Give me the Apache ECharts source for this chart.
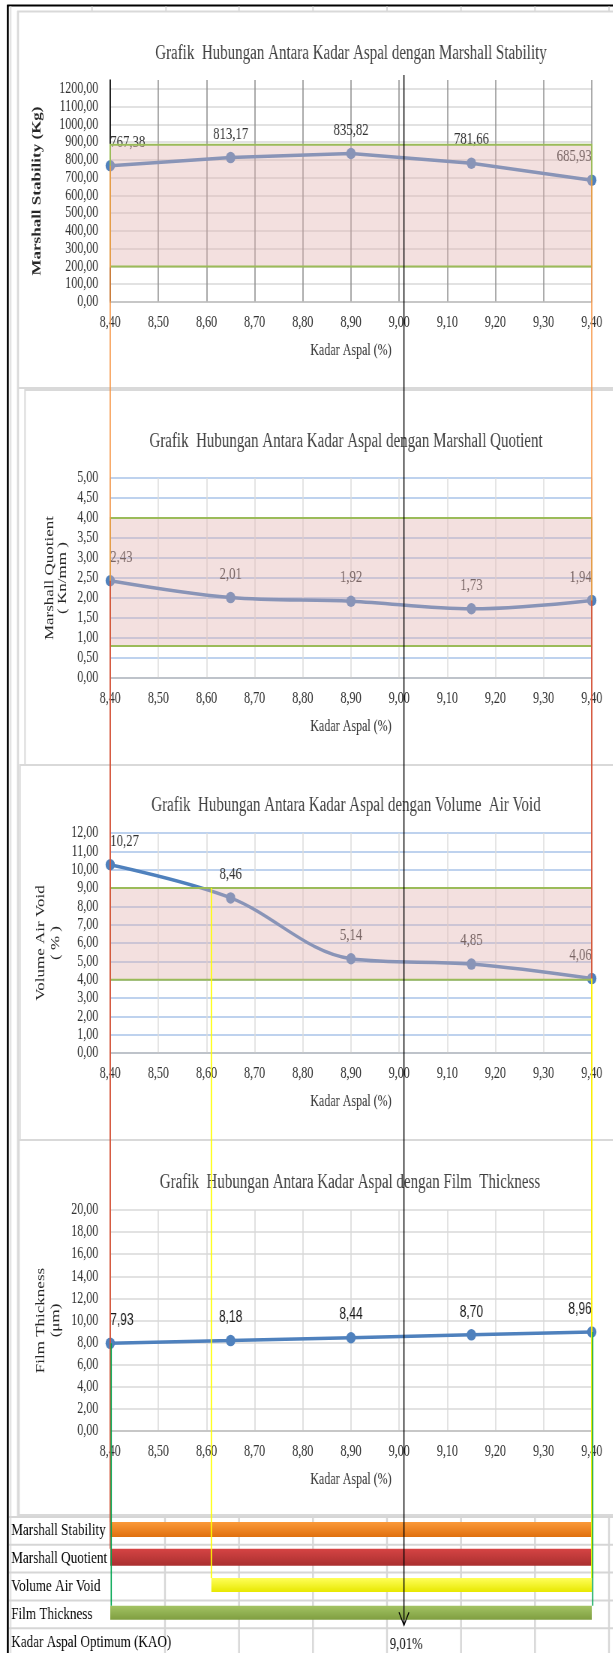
<!DOCTYPE html>
<html lang="id">
<head>
<meta charset="UTF-8">
<title>Kadar Aspal Optimum</title>
<script src="https://cdn.jsdelivr.net/npm/echarts@6.0.0/dist/echarts.min.js"></script>
<style>
  html, body { margin: 0; padding: 0; background: #fff; overflow: hidden; }
  /* gambar aslinya dipampatkan mendatar, jadi kanvas ikut dipampatkan */
  #kao { width: 817px; height: 1653px; transform: scaleX(0.75); transform-origin: 0 0; }
</style>
</head>
<body>
<div id="kao"></div>
<script>
// data dari grafik
var kadarAspal = [8.40, 8.65, 8.90, 9.15, 9.40];
var stability = [767.38, 813.17, 835.82, 781.66, 685.93];
var quotient = [2.43, 2.01, 1.92, 1.73, 1.94];
var airVoid = [10.27, 8.46, 5.14, 4.85, 4.06];
var filmThickness = [7.93, 8.18, 8.44, 8.70, 8.96];

// batas spesifikasi (kotak merah muda)
var specStability = [200, 885];
var specQuotient = [0.8, 4.0];
var specAirVoid = [4.0, 9.0];

// tabel rentang di bawah
var rowNames = ['Marshall Stability', 'Marshall Quotient', 'Volume Air Void', 'Film Thickness', 'Kadar Aspal Optimum (KAO)'];
var rangeStart = [8.40, 8.40, 8.61, 8.40];
var rangeEnd = [9.40, 9.40, 9.40, 9.40];
var kao = 9.01;

var xMin = 8.4, xMax = 9.4, xStep = 0.1;

var titles = [
  'Grafik  Hubungan Antara Kadar Aspal dengan Marshall Stability',
  'Grafik  Hubungan Antara Kadar Aspal dengan Marshall Quotient',
  'Grafik  Hubungan Antara Kadar Aspal dengan Volume  Air Void',
  'Grafik  Hubungan Antara Kadar Aspal dengan Film  Thickness'
];
var yNames = ['Marshall Stability (Kg)', 'Marshall Quotient\n( Kn/mm )', 'Volume Air Void\n( % )', 'Film Thickness\n(\u03bcm)'];
var values = [stability, quotient, airVoid, filmThickness];
var specs = [specStability, specQuotient, specAirVoid, null];

// tata letak
var SX = 0.75;
function u(x) { return x / SX; }
var GL = 147, GR = 28;
var panels = [
  { top: 80, height: 222, tx: 351, ty: 54, max: 1250, step: 100, hLine: '#d9d9d9', vLine: '#8f8f8f', gap: 87, lh: 20, smooth: false },
  { top: 478, height: 200, tx: 346, ty: 442, max: 5, step: 0.5, hLine: '#a9c3e8', vLine: '#dcdcdc', gap: 52, lh: 17, smooth: 0.35 },
  { top: 833, height: 220, tx: 346, ty: 806, max: 12, step: 1, hLine: '#a9c3e8', vLine: '#dcdcdc', gap: 56, lh: 20, smooth: 0.35 },
  { top: 1210, height: 221, tx: 350, ty: 1183, max: 20, step: 2, hLine: '#d9d9d9', vLine: '#d9d9d9', gap: 56, lh: 20, smooth: false }
];
var tableTop = 1517, rowH = 27.8;
var barH = [15, 17, 14, 14];
var barTopColor = ['#fb9a3a', '#d64444', '#ffff5a', '#a3c364'];
var barBotColor = ['#e0700f', '#a93030', '#e8e800', '#7f9e40'];

function koma(v) { return Number(v).toFixed(2).replace('.', ','); }

var chart = echarts.init(document.getElementById('kao'));

var grid = [], xAxis = [], yAxis = [], series = [];
panels.forEach(function (p, i) {
  grid.push({ left: GL, right: GR, top: p.top, height: p.height, outerBoundsMode: 'none' });
  xAxis.push({
    type: 'value', gridIndex: i, min: xMin, max: xMax, interval: xStep,
    axisLine: { show: true, lineStyle: { color: '#bfbfbf', width: 1.5 } },
    axisTick: { show: false },
    axisLabel: { margin: 13, fontSize: 16, color: '#333', formatter: koma },
    splitLine: { show: true, lineStyle: { color: p.vLine, width: 1.5 } },
    name: 'Kadar Aspal (%)', nameLocation: 'middle', nameGap: 41,
    nameTextStyle: { fontSize: 16, color: '#333' }
  });
  yAxis.push({
    type: 'value', gridIndex: i, min: 0, max: p.max, interval: p.step,
    axisLine: { show: i === 0, lineStyle: { color: '#000', width: 1.6 } },
    axisTick: { show: false },
    axisLabel: { margin: 16, fontSize: 16, color: '#333', formatter: koma, showMaxLabel: i !== 0 },
    splitLine: { show: true, showMaxLine: i !== 0, lineStyle: { color: p.hLine, width: 1.5 } },
    name: yNames[i], nameLocation: 'middle', nameRotate: 90, nameGap: p.gap,
    nameTextStyle: { fontSize: 17, fontWeight: i === 0 ? 'bold' : 'normal', color: '#262626', lineHeight: p.lh }
  });
  var n = kadarAspal.length;
  series.push({
    type: 'line', xAxisIndex: i, yAxisIndex: i, z: 2,
    smooth: p.smooth, symbol: 'circle', symbolSize: [12.5, 11.5],
    lineStyle: { color: '#4f81bd', width: 3.5 },
    itemStyle: { color: '#4f81bd' },
    label: {
      show: true, position: 'top', distance: 9,
      fontSize: i === 3 ? 16 : 17,
      fontFamily: i === 3 ? 'Liberation Sans' : 'Liberation Serif',
      color: i === 3 ? '#1a1a1a' : '#333',
      formatter: function (prm) { return koma(prm.value[1]); }
    },
    data: kadarAspal.map(function (x, k) {
      return { value: [x, values[i][k]], label: { align: k === 0 ? 'left' : (k === n - 1 ? 'right' : 'center') } };
    })
  });
  if (specs[i]) {
    series.push({
      type: 'custom', xAxisIndex: i, yAxisIndex: i, z: 5, silent: true,
      data: [[xMin, specs[i][0], xMax, specs[i][1]]],
      encode: { x: [0, 2], y: [1, 3] },
      renderItem: function (params, api) {
        var a = api.coord([api.value(0), api.value(3)]);
        var b = api.coord([api.value(2), api.value(1)]);
        return {
          type: 'rect',
          shape: { x: a[0], y: a[1], width: b[0] - a[0], height: b[1] - a[1] },
          style: { fill: 'rgba(226,178,176,0.4)', stroke: '#9bbb59', lineWidth: 2 }
        };
      }
    });
  }
});

// tabel rentang kadar aspal
grid.push({ left: GL, right: GR, top: tableTop, height: rowH * rowNames.length, outerBoundsMode: 'none' });
xAxis.push({ type: 'value', gridIndex: 4, min: xMin, max: xMax, show: false });
yAxis.push({
  type: 'category', gridIndex: 4, data: rowNames, inverse: true,
  axisLine: { show: false }, axisTick: { show: false }, splitLine: { show: false },
  axisLabel: { align: 'left', margin: u(99), fontSize: 17.5, color: '#000' }
});
series.push({
  type: 'custom', xAxisIndex: 4, yAxisIndex: 4, z: 3, silent: true,
  data: rangeStart.map(function (s, k) { return [s, rangeEnd[k], k]; }),
  encode: { x: [0, 1], y: 2 },
  renderItem: function (params, api) {
    var k = api.value(2);
    var a = api.coord([api.value(0), k]);
    var b = api.coord([api.value(1), k]);
    var h = barH[k];
    return {
      type: 'rect',
      shape: { x: a[0], y: a[1] - h / 2 - 1.5, width: b[0] - a[0], height: h },
      style: {
        fill: new echarts.graphic.LinearGradient(0, 0, 0, 1, [
          { offset: 0, color: barTopColor[k] }, { offset: 1, color: barBotColor[k] }
        ]),
        shadowBlur: 3, shadowOffsetX: 2, shadowOffsetY: 3, shadowColor: 'rgba(0,0,0,0.3)'
      }
    };
  }
});
series.push({
  type: 'custom', xAxisIndex: 4, yAxisIndex: 4, z: 3, silent: true,
  data: [[kao, 4]],
  encode: { x: 0, y: 1 },
  renderItem: function (params, api) {
    var p = api.coord([api.value(0), api.value(1)]);
    return {
      type: 'text', x: p[0] + 3, y: p[1] + 2,
      style: { text: koma(kao) + '%', fontSize: 17, fontFamily: 'Liberation Serif', fill: '#000', align: 'center', verticalAlign: 'middle' }
    };
  }
});

chart.setOption({
  animation: false,
  textStyle: { fontFamily: 'Liberation Serif' },
  grid: grid, xAxis: xAxis, yAxis: yAxis, series: series
});

// garis-garis tambahan, posisinya diambil dari skala grafik
function pt(i, x, y) { return chart.convertToPixel({ xAxisIndex: i, yAxisIndex: i }, [x, y]); }
function rowY(k) { return pt(4, xMin, k)[1]; }
function barTop(k) { return rowY(k) - barH[k] / 2 - 1.5; }

var els = [];
function seg(x1, y1, x2, y2, color, w, z) {
  els.push({ type: 'line', z: z, silent: true, shape: { x1: x1, y1: y1, x2: x2, y2: y2 }, style: { stroke: color, lineWidth: w } });
}

// latar lembar kerja
seg(u(7.8), 5, u(7.8), 1653, '#000', u(2), 0);
seg(u(7), 5.5, 817, 5.5, '#000', 2, 0);
els.push({ type: 'rect', z: 0, silent: true, shape: { x: u(9.5), y: 6.5, width: u(2), height: 1647 }, style: { fill: '#e3e3e3' } });
[92, 166, 239, 313, 387, 461, 535, 609].forEach(function (x) { seg(u(x), 6.5, u(x), 11, '#d9d9d9', u(1.5), 0); });
seg(u(18), 11, u(18), tableTop, '#d9d9d9', u(2), 0);
[[18, 11.5, 388], [25, 390, 765], [20, 765, 1140], [19, 1140, 1515]].forEach(function (b) {
  els.push({ type: 'rect', z: 0, silent: true, shape: { x: u(b[0]), y: b[1], width: 830, height: b[2] - b[1] }, style: { fill: 'none', stroke: '#d9d9d9', lineWidth: 2 } });
});
for (var r = 0; r < rowNames.length; r++) {
  var yy = rowY(r) - rowH / 2;
  seg(u(9), yy, 817, yy, '#d6d6d6', 2, 0);
}
[165, 239, 313, 387, 461, 535, 609].forEach(function (x) { seg(u(x), tableTop, u(x), 1653, '#d6d6d6', u(1.8), 0); });

// garis penghubung rentang
[0, 4].forEach(function (k) { var p = pt(0, kadarAspal[k], stability[k]); seg(p[0], p[1], p[0], barTop(0), '#f79646', 1.6, 10); });
[0, 4].forEach(function (k) { var p = pt(1, kadarAspal[k], quotient[k]); seg(p[0], p[1], p[0], barTop(1), '#cf4a3a', 1.6, 10); });
var py = pt(2, rangeStart[2], specAirVoid[1]);
seg(py[0], py[1], py[0], barTop(2), '#ffff00', 1.8, 10);
var pe = pt(2, kadarAspal[4], airVoid[4]);
seg(pe[0], pe[1], pe[0], barTop(2), '#ffff00', 1.8, 10);
[0, 4].forEach(function (k) { var p = pt(3, kadarAspal[k], filmThickness[k]); seg(p[0] + 1.3, p[1], p[0] + 1.3, barTop(3), '#00a650', 1.6, 10); });

// garis KAO dengan panah
var xk = pt(0, kao, 0)[0];
var tip = rowY(4) - rowH / 2 - 3;
seg(xk, panels[0].top - 5, xk, tip, '#000', 1.4, 11);
els.push({ type: 'polyline', z: 11, silent: true, shape: { points: [[xk - u(5), tip - 13], [xk, tip], [xk + u(5), tip - 13]] }, style: { stroke: '#000', lineWidth: 1.4, fill: 'none' } });

// judul grafik
panels.forEach(function (p, i) {
  els.push({
    type: 'text', z: 6, silent: true, x: u(p.tx), y: p.ty,
    style: { text: titles[i], fontSize: 20, fontFamily: 'Liberation Serif', fill: '#404040', align: 'center', verticalAlign: 'middle' }
  });
});

chart.setOption({ graphic: { elements: els } });
</script>
</body>
</html>
